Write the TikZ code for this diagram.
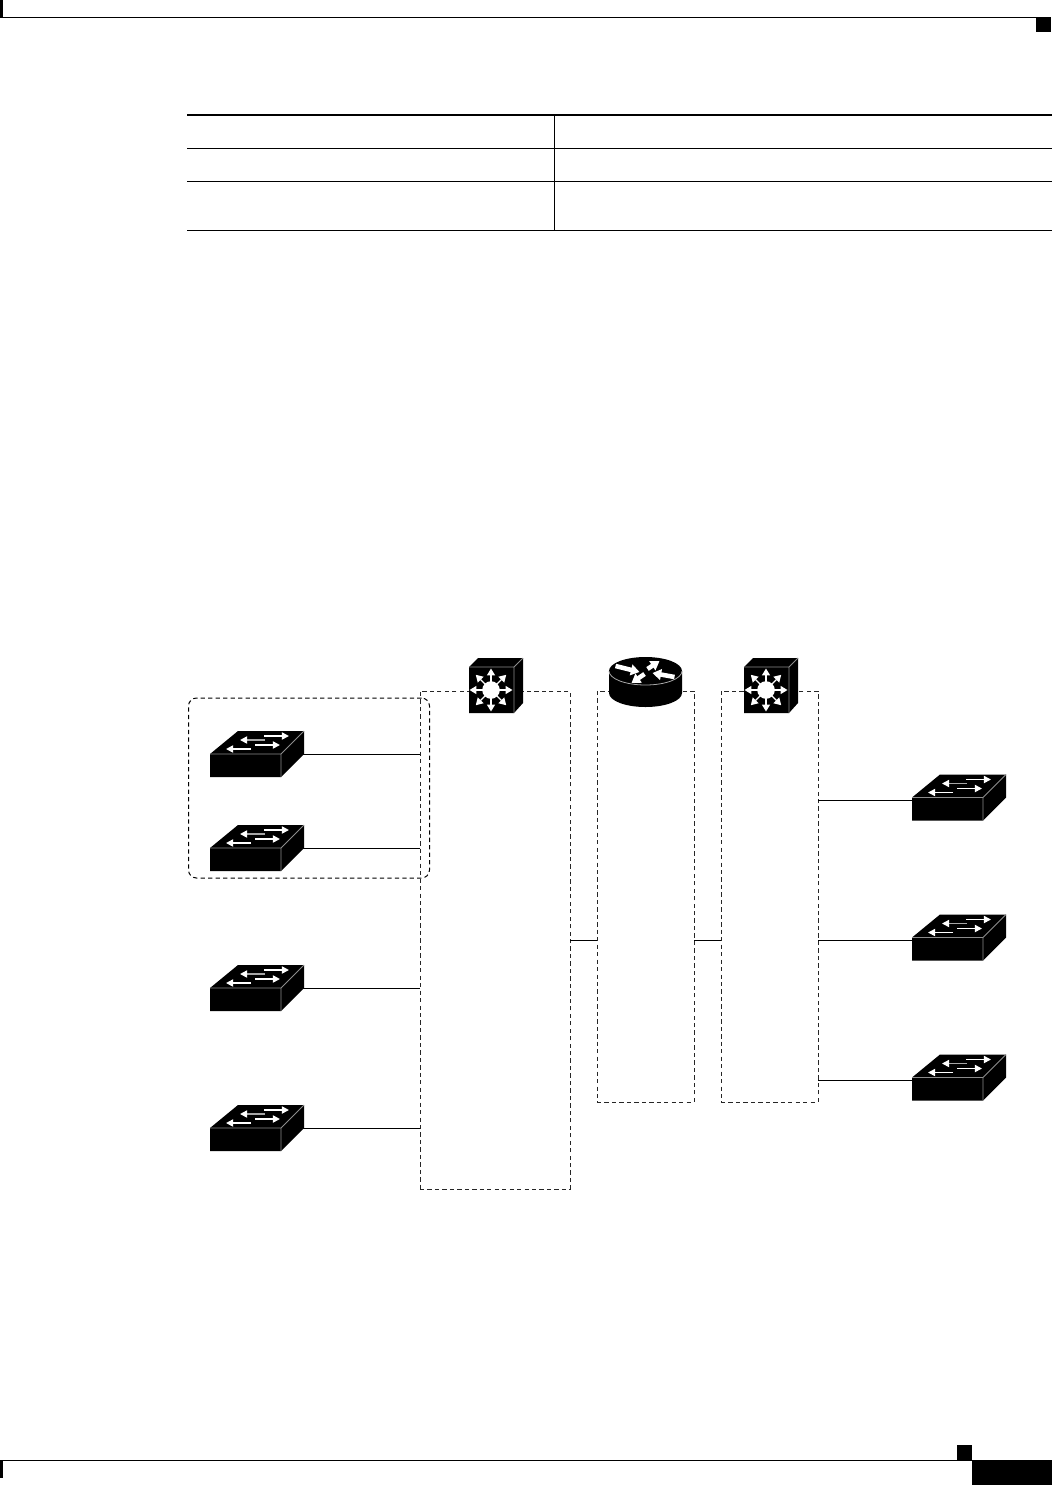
\documentclass[tikz,border=0pt]{standalone}
\usetikzlibrary{arrows.meta}
\tikzset{
  x=0.75pt,y=-0.75pt,
  wire/.style={black,line width=0.75pt},
  zone/.style={draw=black!85,line width=0.75pt,dash pattern=on 3.2pt off 2.4pt,rectangle,inner sep=0pt,outer sep=0pt,anchor=north west},
  rule/.style={black,line width=0.75pt},
  whitearrow/.style={white,line width=1.2pt,-{Triangle[width=5.4pt,length=5.4pt]}},
  greyarrow/.style={black!35,line width=1.2pt,-{Triangle[width=5.4pt,length=5.4pt,color=white]}},
  thickarrow/.style={white,line width=3.4pt,-{Triangle[width=8pt,length=6.5pt]}},
  l3arrow/.style={white,line width=1pt,-{Triangle[width=6pt,length=5.2pt]}},
  l2switch/.pic={
    \fill[black] (0,0) -- (28,-23) -- (94,-23) -- (94,0) -- (71,23) -- (0,23) -- cycle;
    \draw[black!45,line width=0.6pt] (0,0) -- (71,0) -- (94,-23) (71,0) -- (71,23);
    \draw[whitearrow] (54,-18) -- (79,-18);
    \draw[greyarrow] (55,-14) -- (30,-14);
    \draw[whitearrow] (45,-9) -- (70,-9);
    \draw[whitearrow] (41,-5) -- (16,-5);
    \coordinate (-port) at (93,0);
    \coordinate (-inlet) at (0,3);
  },
  l3switch/.pic={
    \fill[black] (0,0) -- (9,-9) -- (54,-9) -- (54,36) -- (45,46) -- (0,46) -- cycle;
    \draw[black!45,line width=0.6pt] (0,0) -- (45,0) -- (54,-9) (45,0) -- (45,46);
    \foreach \a in {0,45,...,315}{
      \draw[l3arrow] (22,23) ++(\a:7) -- ++(\a:14.5);
    }
    \fill[white] (22,23) circle[radius=8.8];
  },
  routericon/.pic={
    \fill[black] (-36.5,0) -- (-36.5,22) arc[start angle=180,end angle=0,x radius=36.5,y radius=14]
      -- (36.5,0) arc[start angle=0,end angle=-180,x radius=36.5,y radius=14] -- cycle;
    \draw[black!35,line width=0.6pt] (-36.5,0) arc[start angle=180,end angle=0,x radius=36.5,y radius=14];
    \draw[thickarrow] (-30,-5) -- (-6,1);
    \draw[thickarrow] (2,-2) -- (14,-10);
    \draw[thickarrow] (-1,3) -- (-14,12);
    \draw[thickarrow] (29,6) -- (7,2);
  },
}
\begin{document}
\begin{tikzpicture}
\useasboundingbox (0,0) rectangle (1052,1485);
% page furniture
\fill[black] (0,0) rectangle (3,17);
\draw[rule] (0,17.5) -- (1036,17.5);
\fill[black] (1036,17) rectangle (1051,32);
\fill[black] (0,1460) rectangle (3,1478);
\draw[rule] (0,1460.5) -- (972,1460.5);
\fill[black] (957,1445) rectangle (972,1460);
\fill[black] (972,1460) rectangle (1052,1485);
% table
\draw[black,line width=1.5pt] (187,115) -- (1052,115);
\draw[rule] (187,148.3) -- (1052,148.3);
\draw[rule] (187,181.3) -- (1052,181.3);
\draw[rule] (187,230.5) -- (1052,230.5);
\draw[rule] (554.3,115) -- (554.3,230.5);
% zones
\node[zone,minimum width=112.5pt,minimum height=373.5pt] (zoneA) at (420,691) {};
\node[zone,minimum width=72.75pt,minimum height=308.25pt] (zoneB) at (597,691) {};
\node[zone,minimum width=72.75pt,minimum height=308.25pt] (zoneC) at (721,691) {};
\node[zone,draw=black,rounded corners=6pt,minimum width=180.75pt,minimum height=135pt] (group) at (188.5,698) {};
% devices
\pic (top1) at (469,667) {l3switch};
\pic (rtr) at (645.5,671) {routericon};
\pic (top2) at (744,667) {l3switch};
\pic (s1) at (210,754) {l2switch};
\pic (s2) at (210,848) {l2switch};
\pic (s3) at (210,988) {l2switch};
\pic (s4) at (210,1128) {l2switch};
\pic (r1) at (912,797.5) {l2switch};
\pic (r2) at (912,937.5) {l2switch};
\pic (r3) at (912,1077.5) {l2switch};
% connectors
\draw[wire] (s1-port) -- (s1-port -| zoneA.west);
\draw[wire] (s2-port) -- (s2-port -| zoneA.west);
\draw[wire] (s3-port) -- (s3-port -| zoneA.west);
\draw[wire] (s4-port) -- (s4-port -| zoneA.west);
\draw[wire] (zoneA.east |- r2-inlet) -- (zoneB.west |- r2-inlet);
\draw[wire] (zoneB.east |- r2-inlet) -- (zoneC.west |- r2-inlet);
\draw[wire] (zoneC.east |- r1-inlet) -- (r1-inlet);
\draw[wire] (zoneC.east |- r2-inlet) -- (r2-inlet);
\draw[wire] (zoneC.east |- r3-inlet) -- (r3-inlet);
\end{tikzpicture}
\end{document}
